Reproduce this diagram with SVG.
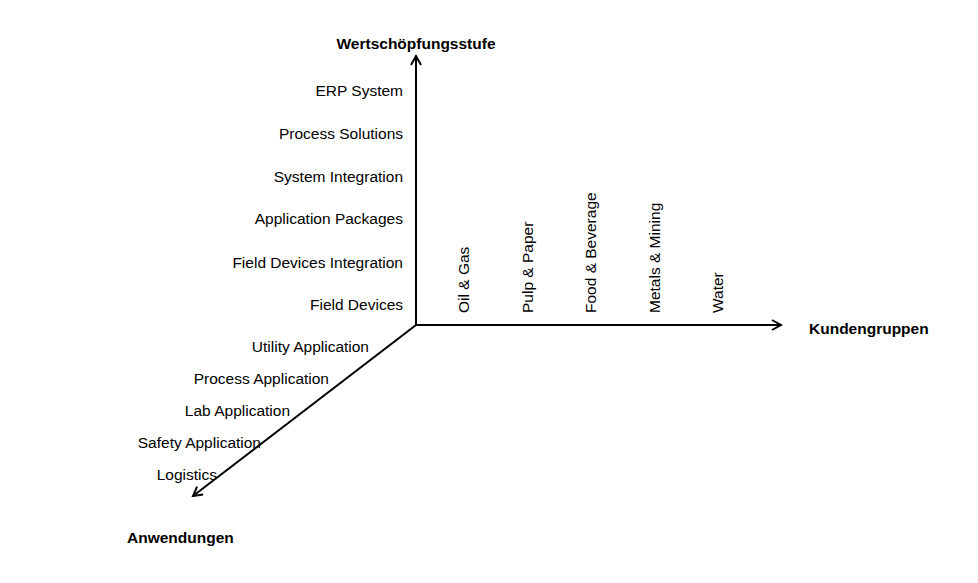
<svg xmlns="http://www.w3.org/2000/svg" width="978" height="583" viewBox="0 0 978 583">
<style>
text{font-family:"Liberation Sans",Arial,sans-serif;font-size:15.5px;fill:#000;dominant-baseline:central}
.b{font-weight:bold;font-size:15.5px}
.r{text-anchor:end}
.ax{stroke:#000;stroke-width:2;fill:none}
</style>
<defs><marker id="a" markerWidth="12" markerHeight="12" refX="10" refY="6" orient="auto" markerUnits="userSpaceOnUse"><path d="M1,1 L10,6 L1,11" fill="none" stroke="#000" stroke-width="2"/></marker></defs>
<rect width="978" height="583" fill="#fff"/>
<g id="connectors">
<line class="ax" x1="416" y1="325" x2="416" y2="56" marker-end="url(#a)"/>
<line class="ax" x1="416" y1="325" x2="781" y2="325" marker-end="url(#a)"/>
<line class="ax" x1="416" y1="325" x2="193" y2="496" marker-end="url(#a)"/>
</g>
<g id="titles">
<text class="b" x="416" y="43" text-anchor="middle">Wertschöpfungsstufe</text>
<text class="b" x="809" y="328">Kundengruppen</text>
<text class="b" x="127" y="537">Anwendungen</text>
</g>
<g id="stufe">
<text class="r" x="403" y="90">ERP System</text>
<text class="r" x="403" y="133">Process Solutions</text>
<text class="r" x="403" y="176">System Integration</text>
<text class="r" x="403" y="218">Application Packages</text>
<text class="r" x="403" y="262">Field Devices Integration</text>
<text class="r" x="403" y="304">Field Devices</text>
</g>
<g id="anwendungen">
<text class="r" x="369" y="346">Utility Application</text>
<text class="r" x="329" y="378">Process Application</text>
<text class="r" x="290" y="410">Lab Application</text>
<text class="r" x="261" y="442">Safety Application</text>
<text class="r" x="217" y="474">Logistics</text>
</g>
<g id="kunden">
<text transform="translate(463,313) rotate(-90)">Oil &amp; Gas</text>
<text transform="translate(527,313) rotate(-90)">Pulp &amp; Paper</text>
<text transform="translate(590,313) rotate(-90)">Food &amp; Beverage</text>
<text transform="translate(654,313) rotate(-90)">Metals &amp; Mining</text>
<text transform="translate(717,313) rotate(-90)">Water</text>
</g>
</svg>
